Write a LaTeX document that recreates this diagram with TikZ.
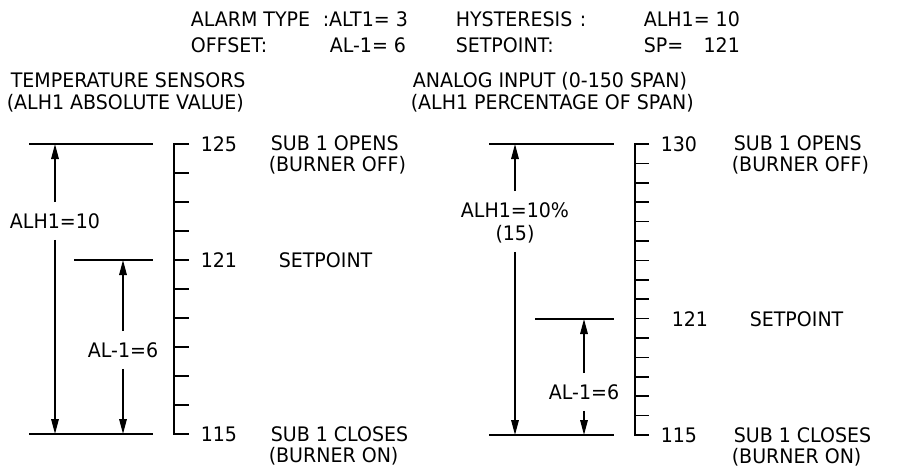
\documentclass[tikz,border=0pt]{standalone}
\usepackage{fontspec}
\setmainfont{DejaVu Sans}[FakeStretch=0.95]
\usetikzlibrary{arrows.meta}

\tikzset{
  txt/.style={anchor=west,inner sep=0pt,text height=14.5pt,text depth=0pt,
    font=\fontsize{20}{24}\selectfont},
  dimlbl/.style={txt,anchor=center,minimum height=36pt},
  dimarr/.style={-{Triangle[length=15pt,width=7.5pt]}},
}

\begin{document}
\begin{tikzpicture}[x=1pt,y=-1pt,line width=1.6pt]
 \useasboundingbox (0,0) rectangle (902,469);
 % settings block
 \node[txt] (altA) at (190,19) {ALARM TYPE};
 \node[txt] (altB) at (322,19) {:ALT1= 3};
 \node[txt] (hysA) at (455,19) {HYSTERESIS};
 \node[txt] (hysC) at (579,19) {:};
 \node[txt] (hysB) at (643,19) {ALH1= 10};
 \node[txt] (offA) at (190,45) {OFFSET:};
 \node[txt] (offB) at (329,45) {AL-1= 6};
 \node[txt] (spA) at (455,45) {SETPOINT:};
 \node[txt] (spB) at (643,45) {SP=};
 \node[txt,anchor=east] (spC) at (hysB.east |- spB.east) {121};

 % temperature sensors
 \node[txt] (hdTa) at (10,80) {TEMPERATURE SENSORS};
 \node[txt] (hdTb) at (6,102) {(ALH1 ABSOLUTE VALUE)};
 \coordinate (tTopA) at (29,144);  \coordinate (tTopB) at (153,144);
 \coordinate (tSetA) at (74,260);  \coordinate (tSetB) at (153,260);
 \coordinate (tBotA) at (29,434);  \coordinate (tBotB) at (153,434);
 \draw (tTopA)--(tTopB);
 \draw (tSetA)--(tSetB);
 \draw (tBotA)--(tBotB);
 \node[dimlbl] (tAlh) at (55,221) {ALH1=10};
 \node[dimlbl] (tAl) at (123,350) {AL-1=6};
 \draw[dimarr] (tAlh.north)--(tAlh.north |- tTopA);
 \draw[dimarr] (tAlh.south)--(tAlh.south |- tBotA);
 \draw[dimarr] (tAl.north)--(tAl.north |- tSetA);
 \draw[dimarr] (tAl.south)--(tAl.south |- tBotA);
 \draw (189,144)--(174,144)--(174,434)--(189,434);
 \foreach \i in {1,...,9}{\draw (174,144+29*\i)--++(15,0);}
 \node[txt] (tV125) at (200,144) {125};
 \node[txt] (tV121) at (200,260) {121};
 \node[txt] (tV115) at (200,434) {115};
 \node[txt] (tOpen) at (270,143) {SUB 1 OPENS};
 \node[txt] (tOff) at (268,164) {(BURNER OFF)};
 \node[txt] (tSet) at (278,260) {SETPOINT};
 \node[txt] (tClose) at (270,434) {SUB 1 CLOSES};
 \node[txt] (tOn) at (268,455) {(BURNER ON)};

 % analog input
 \node[txt] (hdAa) at (412,80) {ANALOG INPUT (0-150 SPAN)};
 \node[txt] (hdAb) at (410,102) {(ALH1 PERCENTAGE OF SPAN)};
 \coordinate (aTopA) at (489,144); \coordinate (aTopB) at (614,144);
 \coordinate (aSetA) at (535,319); \coordinate (aSetB) at (614,319);
 \coordinate (aBotA) at (489,435); \coordinate (aBotB) at (614,435);
 \draw (aTopA)--(aTopB);
 \draw (aSetA)--(aSetB);
 \draw (aBotA)--(aBotB);
 \node[dimlbl] (aAlh) at (515,210) {ALH1=10\%};
 \node[dimlbl] (aSpan) at (515,233) {(15)};
 \node[dimlbl] (aAl) at (584,392) {AL-1=6};
 \draw[dimarr] (aAlh.north)--(aAlh.north |- aTopA);
 \draw[dimarr] (aSpan.south)--(aSpan.south |- aBotA);
 \draw[dimarr] (aAl.north)--(aAl.north |- aSetA);
 \draw[dimarr] (aAl.south)--(aAl.south |- aBotA);
 \draw (649,144)--(635,144)--(635,435)--(649,435);
 \foreach \i in {1,...,14}{\draw (635,144+19.4*\i)--++(14,0);}
 \node[txt] (aV130) at (660,144) {130};
 \node[txt] (aV121) at (671,319) {121};
 \node[txt] (aV115) at (660,435) {115};
 \node[txt] (aOpen) at (733,143) {SUB 1 OPENS};
 \node[txt] (aOff) at (731,164) {(BURNER OFF)};
 \node[txt] (aSet) at (749,319) {SETPOINT};
 \node[txt] (aClose) at (733,435) {SUB 1 CLOSES};
 \node[txt] (aOn) at (731,456) {(BURNER ON)};
\end{tikzpicture}
\end{document}
